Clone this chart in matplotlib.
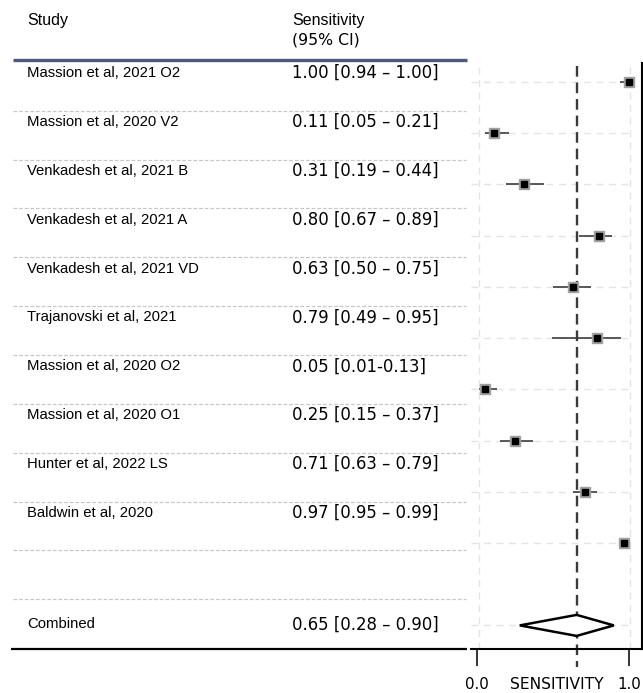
import matplotlib
matplotlib.use("Agg")
import matplotlib.pyplot as plt
import matplotlib.transforms as mtransforms

# study rows
studies = ["Massion et al, 2021 O2", "Massion et al, 2020 V2", "Venkadesh et al, 2021 B",
           "Venkadesh et al, 2021 A", "Venkadesh et al, 2021 VD", "Trajanovski et al, 2021",
           "Massion et al, 2020 O2", "Massion et al, 2020 O1", "Hunter et al, 2022 LS",
           "Baldwin et al, 2020"]
sens = [1.00, 0.11, 0.31, 0.80, 0.63, 0.79, 0.05, 0.25, 0.71, 0.97]
ci_low = [0.94, 0.05, 0.19, 0.67, 0.50, 0.49, 0.01, 0.15, 0.63, 0.95]
ci_high = [1.00, 0.21, 0.44, 0.89, 0.75, 0.95, 0.13, 0.37, 0.79, 0.99]
ci_text = ["1.00 [0.94 \u2013 1.00]", "0.11 [0.05 \u2013 0.21]", "0.31 [0.19 \u2013 0.44]",
           "0.80 [0.67 \u2013 0.89]", "0.63 [0.50 \u2013 0.75]", "0.79 [0.49 \u2013 0.95]",
           "0.05 [0.01-0.13]", "0.25 [0.15 \u2013 0.37]", "0.71 [0.63 \u2013 0.79]",
           "0.97 [0.95 \u2013 0.99]"]

# pooled estimate
comb_label = "Combined"
comb_est, comb_low, comb_high = 0.65, 0.28, 0.90
comb_text = "0.65 [0.28 \u2013 0.90]"

xticks = [0.0, 1.0]
xticklabels = ["0.0", "1.0"]

NAME_FONT = "Liberation Sans"
NUM_FONT = "DejaVu Sans"

W, H = 643, 693
fig = plt.figure(figsize=(W / 100, H / 100), dpi=100)

# --- left table, drawn in pixel coordinates ---
tab = fig.add_axes([0, 0, 1, 1])
tab.set_xlim(0, W)
tab.set_ylim(H, 0)
tab.axis("off")

name_x, val_x = 27, 292
tab.text(name_x, 20, "Study", fontsize=11.5, family=NAME_FONT, va="center")
tab.text(val_x, 20, "Sensitivity", fontsize=11.5, family=NAME_FONT, va="center")
tab.text(val_x, 40, "(95% CI)", fontsize=11.3, family=NUM_FONT, va="center")
tab.plot([13, 467], [60, 60], color="#4b5a78", lw=2.4, solid_capstyle="butt")

row0, pitch = 73.2, 48.85
for i, (name, txt) in enumerate(zip(studies, ci_text)):
    y = row0 + i * pitch
    tab.text(name_x, y, name, fontsize=10.7, family=NAME_FONT, va="center")
    tab.text(val_x, y, txt, fontsize=11.9, family=NUM_FONT, va="center")

for k in range(11):
    y = 110.7 + k * pitch
    tab.plot([13, 466], [y, y], color="#c8c8c8", lw=0.9, ls=(0, (3, 1.5)))

tab.text(name_x, 624.5, comb_label, fontsize=10.7, family=NAME_FONT, va="center")
tab.text(val_x, 624.5, comb_text, fontsize=11.9, family=NUM_FONT, va="center")
tab.plot([11, 467], [649, 649], color="black", lw=1.6, solid_capstyle="butt")

# --- forest plot ---
ax = fig.add_axes([471 / W, 1 - 649 / H, 171 / W, 586 / H])
ypos = list(range(len(studies)))
comb_y = 10.6

ax.set_xlim(-0.0415, 1.086)
ax.set_ylim(11.06, -0.365)

for y in ypos + [comb_y]:
    ax.plot([-0.0415, 1.02], [y, y], color="#e4e4e4", lw=1.0, ls=(0, (5, 4)), zorder=0)
for x in xticks:
    ax.axvline(x + 0.01, color="#e4e4e4", lw=1.0, ls=(0, (5, 4)), zorder=0)

ax.hlines(ypos, ci_low, ci_high, color="#3c3c3c", lw=1.2, zorder=2)
ax.plot(sens, ypos, ls="none", marker="s", ms=7, mfc="#a0a0a0", mec="#a0a0a0", zorder=3)
ax.plot(sens, ypos, ls="none", marker="s", ms=3.8, mfc="black", mec="black", zorder=4)

trans = mtransforms.blended_transform_factory(ax.transData, ax.transAxes)
ax.plot([comb_est + 0.005, comb_est + 0.005], [0.995, -0.031], transform=trans, color="#3a3a3a",
        lw=1.7, ls=(0, (4.5, 2.5)), clip_on=False, zorder=2)

dh = 0.205
ax.fill([comb_low, comb_est + 0.005, comb_high, comb_est + 0.005],
        [comb_y, comb_y - dh, comb_y, comb_y + dh],
        facecolor="white", edgecolor="black", lw=1.8, zorder=5)

ax.spines["left"].set_visible(False)
ax.spines["top"].set_visible(False)
ax.spines["right"].set_linewidth(1.5)
ax.spines["bottom"].set_linewidth(1.5)
ax.set_yticks([])
ax.set_xticks(xticks)
ax.set_xticklabels(xticklabels, fontsize=10.8, family=NUM_FONT)
ax.tick_params(axis="x", length=12, width=1.4, color="#333333", pad=8.5)
ax.set_xlabel("SENSITIVITY", fontsize=11.2, family=NUM_FONT)
ax.xaxis.set_label_coords(0.5, -0.0614)
ax.xaxis.label.set_verticalalignment("center")

fig.savefig("out.png", dpi=100)
